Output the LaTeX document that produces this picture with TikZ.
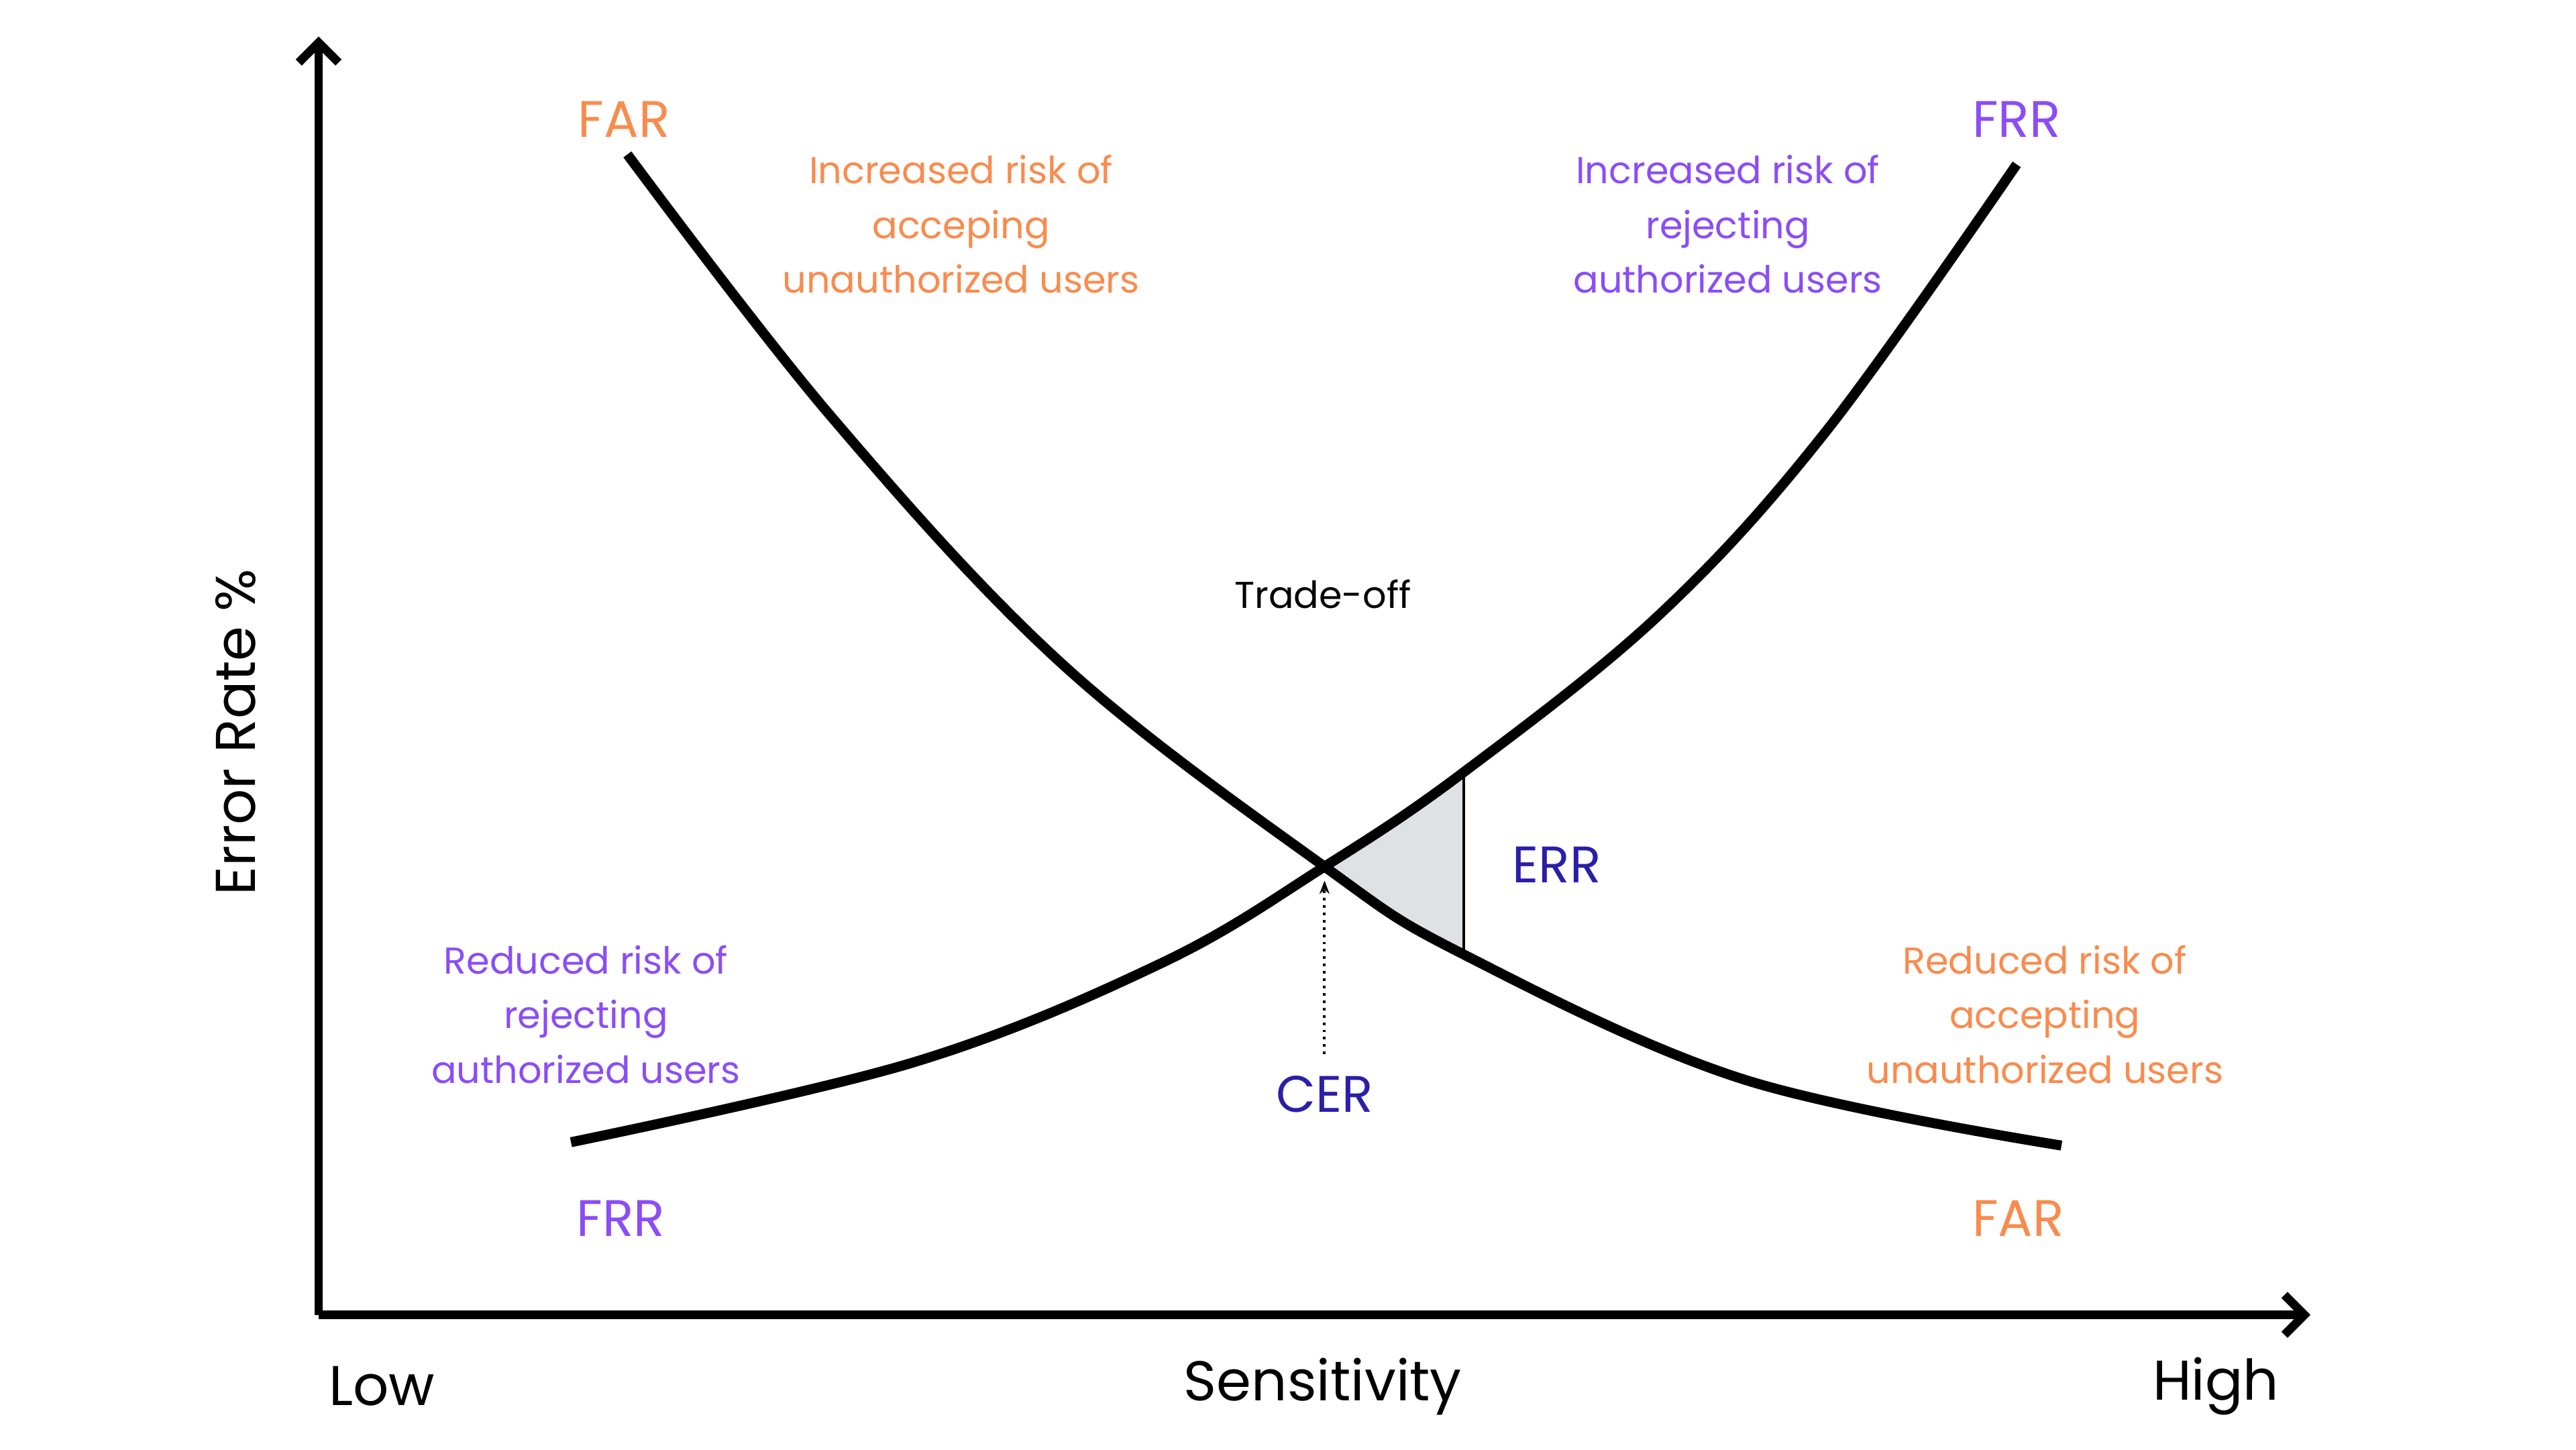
\documentclass[tikz,border=0pt]{standalone}
\usepackage{fontspec}
\setmainfont{Poppins}
\usetikzlibrary{arrows.meta}
\definecolor{farorange}{HTML}{F98B4D}
\definecolor{frrpurple}{HTML}{8B4DF5}
\definecolor{cerblue}{HTML}{2A1FA8}
\definecolor{errgray}{HTML}{DFE2E5}
\tikzset{
  axis/.style={line width=1.3mm, -{Straight Barb[length=3mm,width=6mm]}},
  curve/.style={line width=1.5mm},
  far/.style={text=farorange, font=\fontsize{22}{26}\selectfont},
  frr/.style={text=frrpurple, font=\fontsize{22}{26}\selectfont},
  note/.style={align=center, font=\fontsize{16}{23.5}\selectfont}
}
\begin{document}
\begin{tikzpicture}[x=0.25mm, y=-0.25mm]
    \useasboundingbox (0,0) rectangle (1552,873);
    
    % Define points
    \coordinate (origin) at (192,792);
    \coordinate (ytop) at (192,22);
    \coordinate (xend) at (1392,792);
    \coordinate (cer) at (798,522);
    \coordinate (errtop) at (882,465);
    \coordinate (errbot) at (882,575);
    
    % Shaded area
    \fill[errgray] (cer) -- (errtop) -- (errbot) -- cycle;
    \draw[line width=0.4mm] (errtop) -- (errbot);
    
    % Axes
    \draw[axis] (origin) -- (ytop);
    \draw[axis] (origin) -- (xend);
    
    % Curves
    \draw[curve] plot[smooth, tension=0.6] coordinates {(378,93) (500,250) (640,400) (798,522) (882,575) (1050,650) (1242,690)};
    \draw[curve] plot[smooth, tension=0.6] coordinates {(344,688) (550,640) (700,580) (798,522) (882,465) (1000,370) (1100,260) (1215,99)};
    
    % Labels
    \node[far] (fartop) at (376,72) {FAR};
    \node[frr] (frrtop) at (1215,72) {FRR};
    \node[frr] (frrbot) at (374,734) {FRR};
    \node[far] (farbot) at (1216,734) {FAR};
    \node[note, text=farorange] (incfar) at (579,135) {Increased risk of\\acceping\\unauthorized users};
    \node[note, text=frrpurple] (incfrr) at (1041,135) {Increased risk of\\rejecting\\authorized users};
    \node[note, text=frrpurple] (redfrr) at (353,611) {Reduced risk of\\rejecting\\authorized users};
    \node[note, text=farorange] (redfar) at (1232,611) {Reduced risk of\\accepting\\unauthorized users};
    \node[note] (trade) at (797,358) {Trade-off};
    \node[text=cerblue, font=\fontsize{22}{26}\selectfont] (err) at (938,521) {ERR};
    \node[text=cerblue, font=\fontsize{22}{26}\selectfont] (cerlab) at (798,659) {CER};
    \draw[dotted, line width=0.4mm, -{Stealth[length=2mm]}] (cerlab.north) ++(0,-8) coordinate (cerfoot) -- ([yshift=-6]cer);
    \node[font=\fontsize{24}{28}\selectfont] (low) at (230,835) {Low};
    \node[font=\fontsize{24}{28}\selectfont] (sens) at (797,835) {Sensitivity};
    \node[font=\fontsize{24}{28}\selectfont] (high) at (1335,835) {High};
    \node[rotate=90, font=\fontsize{24}{28}\selectfont] (yaxis) at (142,441) {Error Rate \%};
    
\end{tikzpicture}
\end{document}
